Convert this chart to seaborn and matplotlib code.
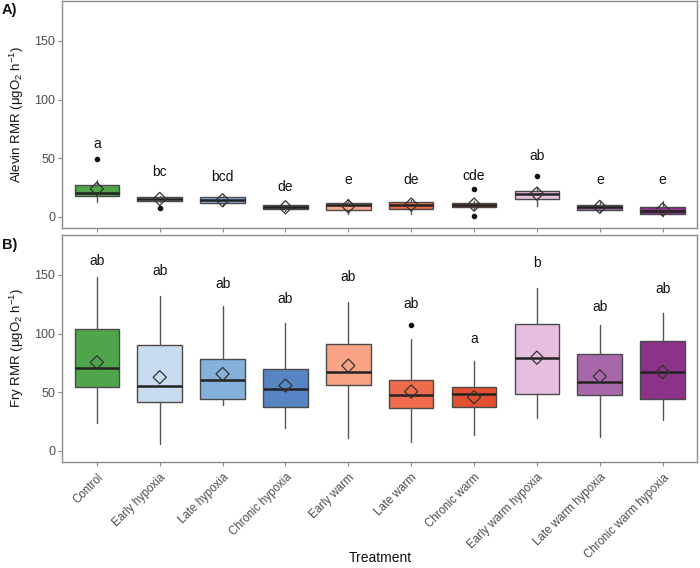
import numpy as np
import matplotlib
matplotlib.use("Agg")
import matplotlib.pyplot as plt
import seaborn as sns

# Treatments and box colours
treatments = ["Control", "Early hypoxia", "Late hypoxia", "Chronic hypoxia", "Early warm",
              "Late warm", "Chronic warm", "Early warm hypoxia", "Late warm hypoxia",
              "Chronic warm hypoxia"]
colors = ["#4fa64a", "#c8dcef", "#86b1dc", "#5785c3", "#f9a387",
          "#ee6c4b", "#e4502f", "#e7bfde", "#a867a9", "#8d3289"]

# A) Alevin RMR box statistics (read from the figure)
alevin_q1 = [17.4, 13.1, 11.4, 6.9, 5.7, 6.3, 8.0, 14.9, 5.7, 2.3]
alevin_med = [20.3, 15.4, 14.3, 8.3, 10.3, 10.3, 9.7, 19.4, 8.0, 5.1]
alevin_q3 = [27.1, 17.1, 16.6, 9.7, 12.0, 12.6, 11.4, 21.7, 10.3, 8.6]
alevin_lo = [12.3, 12.3, 9.4, 5.1, 2.3, 2.3, 6.6, 9.4, 4.3, 0.9]
alevin_hi = [30.9, 18.0, 18.0, 10.3, 15.1, 14.3, 13.7, 25.7, 12.3, 13.7]
alevin_mean = [23.7, 15.1, 14.0, 8.0, 8.9, 10.3, 10.3, 19.7, 8.3, 6.0]
alevin_out = [[49.4], [7.1], [], [], [], [], [23.4, 0.9], [34.6], [], []]
alevin_letters = ["a", "bc", "bcd", "de", "e", "de", "cde", "ab", "e", "e"]
alevin_letter_y = [61.7, 38.3, 33.7, 25.7, 31.4, 31.4, 34.9, 52.0, 31.7, 31.7]

# B) Fry RMR box statistics
fry_q1 = [54.4, 41.4, 43.9, 37.1, 56.1, 36.3, 37.1, 48.5, 47.1, 43.7]
fry_med = [70.6, 55.3, 60.4, 52.5, 67.5, 47.9, 48.2, 79.4, 58.4, 67.2]
fry_q3 = [103.8, 89.9, 78.3, 69.5, 90.7, 60.1, 54.2, 108.0, 82.2, 93.3]
fry_lo = [23.2, 5.7, 38.6, 19.0, 10.5, 7.7, 13.3, 27.5, 11.6, 26.1]
fry_hi = [148.6, 132.1, 123.6, 109.4, 126.5, 95.0, 76.8, 138.9, 107.5, 117.7]
fry_mean = [75.4, 62.7, 65.5, 55.6, 72.6, 50.5, 45.6, 79.4, 63.5, 67.2]
fry_out = [[], [], [], [], [], [106.9], [], [], [], []]
fry_letters = ["ab", "ab", "ab", "ab", "ab", "ab", "a", "b", "ab", "ab"]
fry_letter_y = [161.6, 153.7, 142.3, 129.6, 148.6, 124.8, 95.5, 160.2, 123.0, 138.0]

sns.set_theme(style="white")
plt.rcParams["font.family"] = ["Liberation Sans", "DejaVu Sans"]
plt.rcParams["mathtext.fontset"] = "custom"
plt.rcParams["mathtext.rm"] = "Liberation Sans"
plt.rcParams["mathtext.it"] = "Liberation Sans:italic"

fig = plt.figure(figsize=(7, 5.68), dpi=100)
ax_a = fig.add_axes([0.089, 0.599, 0.907, 0.399])
ax_b = fig.add_axes([0.089, 0.187, 0.907, 0.399])

frame_col = "#8a8a8a"
text_col = "#4d4d4d"


def draw_panel(ax, q1, med, q3, lo, hi, mean, outs, letters, letter_y, ylabel):
    stats = []
    for i in range(len(treatments)):
        stats.append(dict(q1=q1[i], med=med[i], q3=q3[i], whislo=lo[i], whishi=hi[i],
                          fliers=outs[i], mean=mean[i]))
    pos = np.arange(len(treatments))
    bp = ax.bxp(stats, positions=pos, widths=0.71, patch_artist=True, showcaps=False,
                showfliers=True,
                boxprops=dict(edgecolor="#4a4a4a", linewidth=1.0),
                medianprops=dict(color="#222222", linewidth=1.8),
                whiskerprops=dict(color="#555555", linewidth=1.0),
                flierprops=dict(marker="o", markersize=3.0, markerfacecolor="#111111",
                                markeredgecolor="#111111"))
    for patch, c in zip(bp["boxes"], colors):
        patch.set_facecolor(c)
    sns.scatterplot(x=pos, y=mean, marker="D", s=45, facecolor="none",
                    edgecolor="#333333", linewidth=0.9, ax=ax, zorder=5)
    for i, (lab, ly) in enumerate(zip(letters, letter_y)):
        ax.text(i, ly, lab, ha="center", va="center", fontsize=10, color="#111111")
    ax.set_xlim(-0.55, len(treatments) - 0.45)
    ax.set_ylim(-9.5, 184)
    ax.set_yticks([0, 50, 100, 150])
    ax.set_xticks(pos)
    for s in ax.spines.values():
        s.set_color(frame_col)
        s.set_linewidth(1.0)
    ax.tick_params(axis="both", direction="out", length=3, width=0.8, color=frame_col,
                   labelsize=9, labelcolor=text_col, left=True, bottom=True, pad=2)
    ax.set_ylabel(ylabel, fontsize=9.5, color="#111111", labelpad=6)


draw_panel(ax_a, alevin_q1, alevin_med, alevin_q3, alevin_lo, alevin_hi, alevin_mean,
           alevin_out, alevin_letters, alevin_letter_y,
           "Alevin RMR (μgO$_2$ h$^{-1}$)")
draw_panel(ax_b, fry_q1, fry_med, fry_q3, fry_lo, fry_hi, fry_mean,
           fry_out, fry_letters, fry_letter_y,
           "Fry RMR (μgO$_2$ h$^{-1}$)")

ax_a.set_xticklabels([])
ax_b.set_xticklabels(treatments, rotation=45, ha="right", rotation_mode="anchor",
                     fontsize=8.3)
ax_b.tick_params(axis="x", pad=4)

fig.text(0.543, 0.018, "Treatment", ha="center", va="center", fontsize=10, color="#111111")
fig.text(0.003, 0.975, "A)", fontsize=10.5, fontweight="bold", color="#111111")
fig.text(0.003, 0.562, "B)", fontsize=10.5, fontweight="bold", color="#111111")

fig.savefig("out.png", dpi=100)
